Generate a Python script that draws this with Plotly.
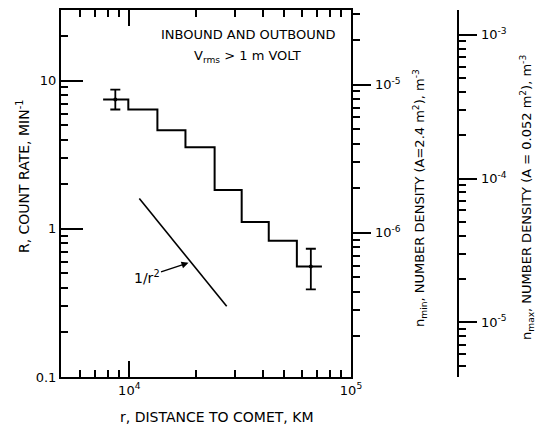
import plotly.graph_objects as go
import numpy as np

# ---- data ----
bin_edges = [7620, 9900, 13390, 17920, 24260, 32130, 42560, 56990, 73930]   # km
count_rate = [7.46, 6.39, 4.62, 3.55, 1.83, 1.11, 0.83, 0.556]               # min^-1

err_x = [8650, 65900]
err_y = [7.46, 0.556]
err_plus = [1.24, 0.178]
err_minus = [1.07, 0.166]

ref_line_x = [11100, 27500]   # 1/r^2 reference line
ref_line_y = [1.6, 0.30]
ref_arrow_tip = (18500, 0.59)

x_major = [1e4, 1e5]
x_major_text = ["10<sup>4</sup>", "10<sup>5</sup>"]
x_minor = [6000, 7000, 8000, 9000, 20000, 30000, 40000, 50000, 60000, 70000, 80000, 90000]

y_major = [0.1, 1, 10]
y_major_text = ["0.1", "1", "10"]
y_minor = [0.2, 0.3, 0.4, 0.5, 0.6, 0.7, 0.8, 0.9, 2, 3, 4, 5, 6, 7, 8, 9, 20]

nmin_major = [1e-6, 1e-5]
nmin_major_text = ["10<sup>-6</sup>", "10<sup>-5</sup>"]
nmin_minor = [2e-7, 3e-7, 4e-7, 5e-7, 6e-7, 7e-7, 8e-7, 9e-7,
              2e-6, 3e-6, 4e-6, 5e-6, 6e-6, 7e-6, 8e-6, 9e-6, 2e-5, 3e-5]

nmax_major = [1e-5, 1e-4, 1e-3]
nmax_major_text = ["10<sup>-5</sup>", "10<sup>-4</sup>", "10<sup>-3</sup>"]
nmax_minor = [5e-6, 6e-6, 7e-6, 8e-6, 9e-6,
              2e-5, 3e-5, 4e-5, 5e-5, 6e-5, 7e-5, 8e-5, 9e-5,
              2e-4, 3e-4, 4e-4, 5e-4, 6e-4, 7e-4, 8e-4, 9e-4]

FONT = "DejaVu Sans"
BLACK = "black"
PAD = "\u00a0\u00a0\u00a0"

X_RANGE = [3.692, 5.0]
Y_RANGE = [-1, 1.477]
NMIN_RANGE = [-6.973, -4.497]
NMAX_RANGE = [-5.381, -2.827]

fig = go.Figure()

# histogram (step)
fig.add_trace(go.Scatter(
    x=bin_edges, y=count_rate + [count_rate[-1]], mode="lines",
    line=dict(shape="hv", color=BLACK, width=2), showlegend=False))

# error-bar points
fig.add_trace(go.Scatter(
    x=err_x, y=err_y, mode="markers",
    marker=dict(color=BLACK, size=4),
    error_y=dict(type="data", array=err_plus, arrayminus=err_minus,
                 color=BLACK, thickness=1.8, width=5),
    showlegend=False))

# 1/r^2 line
fig.add_trace(go.Scatter(
    x=ref_line_x, y=ref_line_y, mode="lines",
    line=dict(color=BLACK, width=1.6), showlegend=False))

# empty traces to materialise the extra axes
for xa, ya in [("x", "y2"), ("x", "y3"), ("x2", "y"), ("x", "y4"), ("x", "y5"), ("x", "y6")]:
    fig.add_trace(go.Scatter(x=[None], y=[None], xaxis=xa, yaxis=ya, showlegend=False))

W, H = 540, 431
L, R, T, B = 61, 20, 8, 54
pw = W - L - R
ph = H - T - B

def px(xpix):
    return (xpix - L) / pw

def py(ypix):
    return (H - B - ypix) / ph

def merged(major_vals, major_text, minor_vals, pad=""):
    vals = list(major_vals) + list(minor_vals)
    text = [pad + t for t in major_text] + [""] * len(minor_vals)
    return vals, text

tickfont = dict(family=FONT, size=13, color=BLACK)
hidden_font = dict(family=FONT, size=13, color="rgba(0,0,0,0)")
base = dict(type="log", showgrid=False, zeroline=False, tickcolor=BLACK, tickwidth=1.6,
            tickmode="array")

xv, xt = merged(x_major, x_major_text, x_minor)
yv, yt = merged(y_major, y_major_text, y_minor)
n1v, n1t = merged(nmin_major, nmin_major_text, nmin_minor, PAD)
n2v, n2t = merged(nmax_major, nmax_major_text, nmax_minor, PAD)

fig.update_layout(
    width=W, height=H,
    margin=dict(l=L, r=R, t=T, b=B),
    paper_bgcolor="white", plot_bgcolor="white", showlegend=False,
    # main axes carry every tick (labels on majors only)
    xaxis=dict(
        **base, range=X_RANGE, domain=[0, px(351)], tickfont=tickfont,
        showline=True, linecolor=BLACK, linewidth=2, mirror="ticks",
        ticks="inside", ticklen=7, tickvals=xv, ticktext=xt,
    ),
    yaxis=dict(
        **base, range=Y_RANGE, tickfont=tickfont,
        showline=True, linecolor=BLACK, linewidth=2, mirror=False,
        ticks="inside", ticklen=7, tickvals=yv, ticktext=yt,
    ),
    yaxis2=dict(
        **base, range=NMIN_RANGE, overlaying="y", side="right", anchor="x", tickfont=tickfont,
        showline=True, linecolor=BLACK, linewidth=2,
        ticks="outside", ticklen=7, tickvals=n1v, ticktext=n1t,
    ),
    yaxis3=dict(
        **base, range=NMAX_RANGE, overlaying="y", side="right", tickfont=tickfont,
        anchor="free", position=px(458),
        showline=True, linecolor=BLACK, linewidth=2,
        ticks="outside", ticklen=7, tickvals=n2v, ticktext=n2t,
    ),
    # overlays: longer major ticks
    xaxis2=dict(
        **base, range=X_RANGE, domain=[0, px(351)], overlaying="x", anchor="y",
        showline=True, linecolor=BLACK, linewidth=2, mirror="ticks",
        ticks="inside", ticklen=16, tickvals=x_major, ticktext=["."] * len(x_major),
        tickfont=hidden_font,
    ),
    yaxis4=dict(
        **base, range=Y_RANGE, overlaying="y", side="left", anchor="x",
        showline=True, linecolor=BLACK, linewidth=2,
        ticks="inside", ticklen=22, tickvals=y_major, ticktext=["."] * len(y_major),
        tickfont=hidden_font,
    ),
    yaxis5=dict(
        **base, range=NMIN_RANGE, overlaying="y", side="right", anchor="x",
        showline=True, linecolor=BLACK, linewidth=2,
        ticks="outside", ticklen=18, tickvals=nmin_major, ticktext=["."] * len(nmin_major),
        tickfont=hidden_font,
    ),
    yaxis6=dict(
        **base, range=NMAX_RANGE, overlaying="y", side="right",
        anchor="free", position=px(458),
        showline=True, linecolor=BLACK, linewidth=2,
        ticks="outside", ticklen=18, tickvals=nmax_major, ticktext=["."] * len(nmax_major),
        tickfont=hidden_font,
    ),
)

annots = [
    dict(text="R, COUNT RATE, MIN<sup>-1</sup>", x=px(23), y=py(175), textangle=-90, size=14),
    dict(text="n<sub>min</sub>, NUMBER DENSITY (A=2.4 m<sup>2</sup>), m<sup>-3</sup>",
         x=px(420), y=py(197), textangle=-90, size=13),
    dict(text="n<sub>max</sub>, NUMBER DENSITY (A = 0.052 m<sup>2</sup>), m<sup>-3</sup>",
         x=px(527), y=py(197), textangle=-90, size=13),
    dict(text="r, DISTANCE TO COMET, KM", x=px(217), y=py(417), size=14),
    dict(text="INBOUND AND OUTBOUND", x=px(248), y=py(33), size=13),
    dict(text="V<sub>rms</sub> > 1 m VOLT", x=px(247), y=py(55), size=13),
]
for a in annots:
    size = a.pop("size")
    fig.add_annotation(xref="paper", yref="paper", showarrow=False,
                       xanchor="center", yanchor="middle",
                       font=dict(family=FONT, size=size, color=BLACK), **a)

# 1/r^2 label with arrow pointing at the reference line
fig.add_annotation(x=np.log10(ref_arrow_tip[0]), y=np.log10(ref_arrow_tip[1]),
                   xref="x", yref="y", text="1/r<sup>2</sup>",
                   font=dict(family=FONT, size=14, color=BLACK),
                   showarrow=True, arrowhead=2, arrowsize=1, arrowwidth=1.4,
                   arrowcolor=BLACK, ax=-42, ay=14)

fig.write_html("out.html")
